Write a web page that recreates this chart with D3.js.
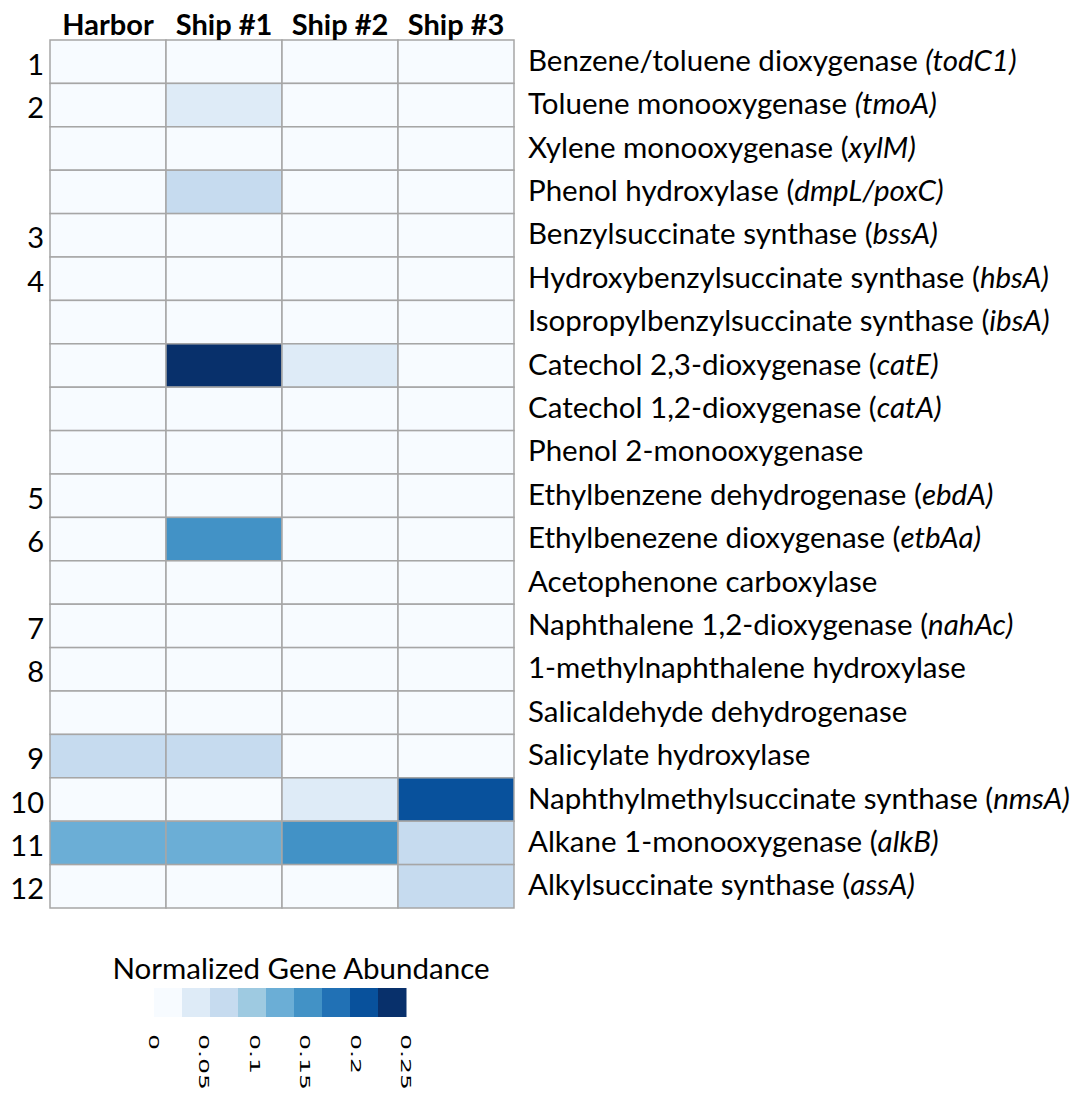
<!DOCTYPE html>
<html>
<head>
<meta charset="UTF-8">
<title>heatmap</title>
<script src="https://cdn.jsdelivr.net/npm/d3@7"></script>
<style>
  body { margin: 0; background: #fff; }
  text { font-family: Lato, "Open Sans", sans-serif; fill: #000; }
</style>
</head>
<body>
<div id="chart"></div>
<script>
// samples (columns)
var samples = ['Harbor', 'Ship #1', 'Ship #2', 'Ship #3'];

// gene rows: [plain part, italic part]
var genes = [
    ['Benzene/toluene dioxygenase ', '(todC1)'],
    ['Toluene monooxygenase ', '(tmoA)'],
    ['Xylene monooxygenase (', 'xylM)'],
    ['Phenol hydroxylase (', 'dmpL/poxC)'],
    ['Benzylsuccinate synthase (', 'bssA)'],
    ['Hydroxybenzylsuccinate synthase (', 'hbsA)'],
    ['Isopropylbenzylsuccinate synthase (', 'ibsA)'],
    ['Catechol 2,3-dioxygenase (', 'catE)'],
    ['Catechol 1,2-dioxygenase (', 'catA)'],
    ['Phenol 2-monooxygenase', ''],
    ['Ethylbenzene dehydrogenase (', 'ebdA)'],
    ['Ethylbenezene dioxygenase (', 'etbAa)'],
    ['Acetophenone carboxylase', ''],
    ['Naphthalene 1,2-dioxygenase (', 'nahAc)'],
    ['1-methylnaphthalene hydroxylase', ''],
    ['Salicaldehyde dehydrogenase', ''],
    ['Salicylate hydroxylase', ''],
    ['Naphthylmethylsuccinate synthase (', 'nmsA)'],
    ['Alkane 1-monooxygenase (', 'alkB)'],
    ['Alkylsuccinate synthase (', 'assA)']
];

// numbers on the left (blank where none)
var rowNumbers = ['1', '2', '', '', '3', '4', '', '', '', '', '5', '6', '', '7', '8', '', '9', '10', '11', '12'];

// normalized abundance per sample, one value per gene row
var harbor = [0, 0, 0, 0, 0, 0, 0, 0, 0, 0, 0, 0, 0, 0, 0, 0, 0.07, 0, 0.13, 0];
var ship1  = [0, 0.04, 0, 0.07, 0, 0, 0, 0.25, 0, 0, 0, 0.155, 0, 0, 0, 0, 0.07, 0, 0.13, 0];
var ship2  = [0, 0, 0, 0, 0, 0, 0, 0.04, 0, 0, 0, 0, 0, 0, 0, 0, 0, 0.04, 0.155, 0];
var ship3  = [0, 0, 0, 0, 0, 0, 0, 0, 0, 0, 0, 0, 0, 0, 0, 0, 0, 0.21, 0.07, 0.07];

var legendTicks = [0, 0.05, 0.1, 0.15, 0.2, 0.25];

var width = 1078, height = 1093;

var svg = d3.select('#chart').append('svg')
    .attr('width', width)
    .attr('height', height);

var series = [harbor, ship1, ship2, ship3];
var cells = [];
series.forEach(function (vals, c) {
    vals.forEach(function (v, r) {
        cells.push({col: samples[c], row: r, value: v});
    });
});

var x = d3.scaleBand().domain(samples).range([50, 514]);
var y = d3.scaleBand().domain(d3.range(genes.length)).range([40, 908]);

var color = d3.scaleQuantize()
    .domain([0, 0.25])
    .range(d3.schemeBlues[9]);

// cells
svg.append('g').selectAll('rect')
    .data(cells)
    .enter().append('rect')
    .attr('x', function (d) { return x(d.col); })
    .attr('y', function (d) { return y(d.row); })
    .attr('width', x.bandwidth())
    .attr('height', y.bandwidth())
    .attr('fill', function (d) { return color(d.value); })
    .attr('stroke', '#a6a6a6')
    .attr('stroke-width', 1.5);

// column headers
svg.append('g').selectAll('text')
    .data(samples)
    .enter().append('text')
    .attr('x', function (d) { return x(d) + x.bandwidth() / 2; })
    .attr('y', 35)
    .attr('text-anchor', 'middle')
    .style('font-weight', 'bold')
    .style('font-size', '29px')
    .text(function (d) { return d; });

// row numbers
svg.append('g').selectAll('text')
    .data(rowNumbers)
    .enter().append('text')
    .attr('x', 44)
    .attr('y', function (d, i) { return y(i) + y.bandwidth() / 2 + 13; })
    .attr('text-anchor', 'end')
    .style('font-size', '29px')
    .text(function (d) { return d; });

// gene labels
var lab = svg.append('g').selectAll('text')
    .data(genes)
    .enter().append('text')
    .attr('x', 528)
    .attr('y', function (d, i) { return y(i) + y.bandwidth() / 2 + 9; })
    .style('font-size', '29.5px');
lab.append('tspan').text(function (d) { return d[0]; });
lab.append('tspan').style('font-style', 'italic').text(function (d) { return d[1]; });

// legend
var lx = d3.scaleLinear().domain([0, 0.25]).range([154, 406]);
var sw = (lx(0.25) - lx(0)) / 9;
var leg = svg.append('g');

leg.append('text')
    .attr('x', 301)
    .attr('y', 979)
    .attr('text-anchor', 'middle')
    .style('font-size', '29.5px')
    .text('Normalized Gene Abundance');

leg.selectAll('rect')
    .data(color.range())
    .enter().append('rect')
    .attr('x', function (d, i) { return lx(0) + i * sw; })
    .attr('y', 988)
    .attr('width', sw + 0.5)
    .attr('height', 29)
    .attr('fill', function (d) { return d; });

// rotated, stretched tick labels
leg.selectAll('text.tick')
    .data(legendTicks)
    .enter().append('text')
    .attr('class', 'tick')
    .attr('transform', function (d) { return 'translate(' + (lx(d) - 5) + ',1034) rotate(90) scale(1.8,1)'; })
    .style('font-family', '"DejaVu Sans", sans-serif')
    .style('font-size', '14px')
    .text(function (d) { return d; });
</script>
</body>
</html>
